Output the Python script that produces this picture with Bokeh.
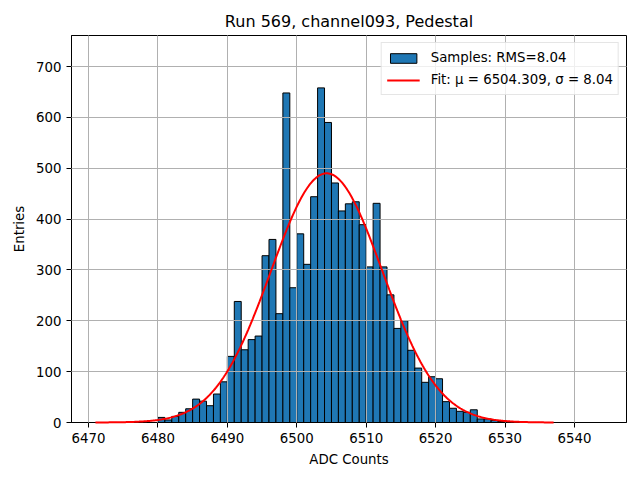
import numpy as np
from bokeh.plotting import figure
from bokeh.models import Range1d, FixedTicker, Legend, LegendItem
from bokeh.embed import file_html
from bokeh.resources import INLINE

# ---- data ----
BIN_START = 6480          # left edge of first bin (bin width = 1 ADC count)
BIN_WIDTH = 1
counts = [10, 5, 12, 20, 27, 46, 42, 33, 56, 80,
          130, 238, 143, 163, 170, 328, 360, 214, 648, 265,
          371, 311, 444, 658, 590, 471, 416, 430, 434, 389,
          306, 431, 306, 251, 185, 200, 142, 107, 79, 90,
          86, 41, 28, 22, 20, 25, 7, 7, 4, 2]

FIT_MU = 6504.309
FIT_SIGMA = 8.04
FIT_AMP = 490.0
FIT_X_MIN = 6471
FIT_X_MAX = 6537

RMS = 8.04
x_ticks = [6470, 6480, 6490, 6500, 6510, 6520, 6530, 6540]
y_ticks = [0, 100, 200, 300, 400, 500, 600, 700]

TITLE = "Run 569, channel093, Pedestal"
XLABEL = "ADC Counts"
YLABEL = "Entries"

FONT = "DejaVu Sans"

lefts = [BIN_START + i * BIN_WIDTH for i in range(len(counts))]
rights = [l + BIN_WIDTH for l in lefts]

fit_x = np.linspace(FIT_X_MIN, FIT_X_MAX, 400)
fit_y = FIT_AMP * np.exp(-0.5 * ((fit_x - FIT_MU) / FIT_SIGMA) ** 2)

p = figure(width=640, height=480, output_backend="svg", toolbar_location=None,
           x_range=Range1d(6467.55, 6547.5), y_range=Range1d(0, 761),
           min_border_left=71, min_border_right=14, min_border_top=35,
           min_border_bottom=58)

p.title.text = TITLE
p.title.align = "center"
p.title.text_font = FONT
p.title.text_font_size = "16px"
p.title.text_font_style = "normal"
p.title.text_color = "black"
p.title.offset = 0

bars = p.quad(left=lefts, right=rights, top=counts, bottom=0,
              fill_color="#1f77b4", line_color="black", line_width=1)
fit = p.line(fit_x, fit_y, line_color="red", line_width=2)
fit.level = "annotation"

for ax, ticks, label in ((p.xaxis[0], x_ticks, XLABEL), (p.yaxis[0], y_ticks, YLABEL)):
    ax.ticker = FixedTicker(ticks=ticks)
    ax.axis_label = label
    ax.axis_label_text_font = FONT
    ax.axis_label_text_font_size = "13.33px"
    ax.axis_label_text_font_style = "normal"
    ax.axis_label_text_color = "black"
    ax.major_label_text_font = FONT
    ax.major_label_text_font_size = "13.33px"
    ax.major_label_text_color = "black"
    ax.major_tick_out = 5
    ax.major_tick_in = 0
    ax.minor_tick_out = 0
    ax.minor_tick_in = 0
    ax.axis_line_color = "black"
    ax.major_tick_line_color = "black"
    ax.major_label_standoff = 5
    ax.axis_label_standoff = 6

p.xgrid.ticker = FixedTicker(ticks=x_ticks)
p.ygrid.ticker = FixedTicker(ticks=y_ticks)
for g in (p.xgrid[0], p.ygrid[0]):
    g.grid_line_color = "#b0b0b0"
    g.grid_line_width = 1
    g.level = "guide"

p.outline_line_color = "black"
p.outline_line_width = 1
p.background_fill_color = "white"
p.border_fill_color = "white"

legend = Legend(items=[
    LegendItem(label=f"Samples: RMS={RMS:.2f}", renderers=[bars]),
    LegendItem(label=f"Fit: \u03bc = {FIT_MU:.3f}, \u03c3 = {FIT_SIGMA:.2f}", renderers=[fit]),
], location="top_right")
legend.margin = 7
legend.padding = 5
legend.spacing = 3
legend.glyph_width = 33
legend.glyph_height = 12
legend.label_height = 19
legend.label_standoff = 11
legend.label_text_font = FONT
legend.label_text_font_size = "13.33px"
legend.label_text_color = "black"
legend.border_line_color = "#cccccc"
legend.border_line_width = 1
legend.background_fill_alpha = 0.8
p.add_layout(legend)

open("out.html", "w").write(file_html(p, INLINE))
